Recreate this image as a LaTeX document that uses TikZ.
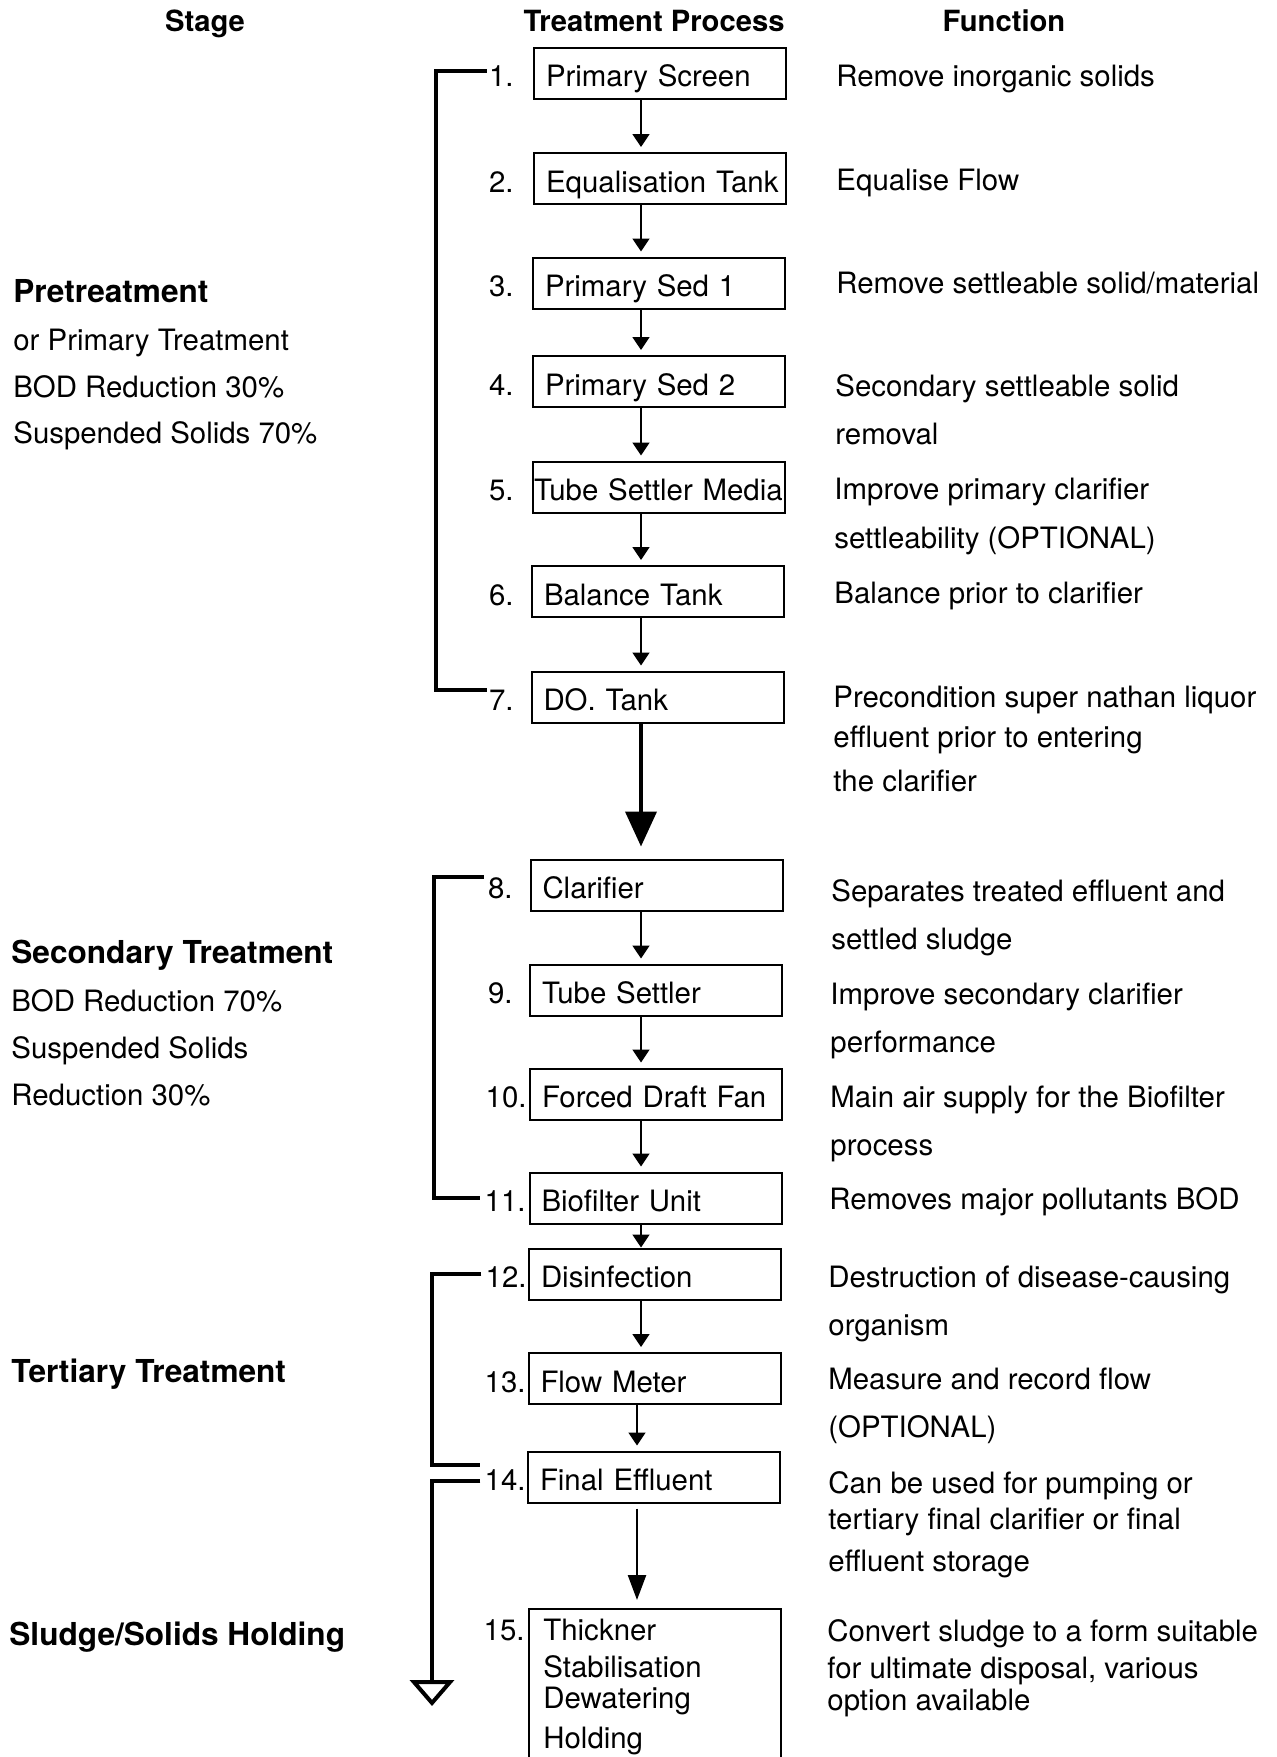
\documentclass[tikz,border=0pt]{standalone}
\usepackage{fontspec}
\setmainfont{TeX Gyre Heros}
\usetikzlibrary{arrows.meta}
\newcommand\myBody{\fontsize{14.7}{17}\selectfont}
\newcommand\myHead{\fontsize{14.6}{17}\selectfont\bfseries}
\newcommand\myStage{\fontsize{15.8}{19}\selectfont\bfseries}
\begin{document}
\begin{tikzpicture}[x=0.5pt,y=-0.5pt,
  procbox/.style={draw, line width=1pt, rectangle, minimum width=126pt, minimum height=25.5pt,
    text width=114pt, inner xsep=6pt, inner ysep=0pt, align=left, text height=13.6pt, text depth=0pt, font=\myBody},
  tightbox/.style={text width=125pt, inner xsep=0.5pt},
  num/.style={anchor=base east, inner sep=0pt, font=\myBody},
  ftext/.style={anchor=base west, inner sep=0pt, font=\myBody},
  stext/.style={anchor=base west, inner sep=0pt, font=\myBody},
  shead/.style={anchor=base west, inner sep=0pt, font=\myStage},
  hd/.style={anchor=base, inner sep=0pt, font=\myHead},
  flow/.style={line width=0.8pt, -{Triangle[width=8.5pt,length=6.5pt]}, shorten >=2.5pt},
  bigflow/.style={line width=2pt, -{Triangle[width=15.5pt,length=17.5pt]}, shorten >=6pt},
  midflow/.style={line width=1.2pt, -{Triangle[width=9pt,length=12.5pt]}, shorten <=2.5pt, shorten >=4pt},
  bracket/.style={line width=2pt, line join=miter}
]
\useasboundingbox (0,0) rectangle (1276,1757);
\fill[white] (0,0) rectangle (1276,1757);
\clip (0,0) rectangle (1276,1757);

% headers
\node[hd] (hStage) at (205,31) {Stage};
\node[hd] (hProc) at (654,31) {Treatment Process};
\node[hd] (hFunc) at (1004,31) {Function};

% process boxes
\node[procbox] (b1) at (660,73) {\mbox{Primary Screen}};
\node[procbox] (b2) at (660,178.5) {\mbox{Equalisation Tank}};
\node[procbox] (b3) at (659,283) {\mbox{Primary Sed 1}};
\node[procbox] (b4) at (659,381.5) {\mbox{Primary Sed 2}};
\node[procbox, tightbox] (b5) at (659,487) {\mbox{Tube Settler Media}};
\node[procbox] (b6) at (658,591.5) {\mbox{Balance Tank}};
\node[procbox] (b7) at (657.5,697) {\mbox{DO. Tank}};
\node[procbox] (b8) at (656.5,885) {\mbox{Clarifier}};
\node[procbox] (b9) at (656,990) {\mbox{Tube Settler}};
\node[procbox] (b10) at (656,1094) {\mbox{Forced Draft Fan}};
\node[procbox] (b11) at (655.5,1198) {\mbox{Biofilter Unit}};
\node[procbox] (b12) at (655,1274) {\mbox{Disinfection}};
\node[procbox] (b13) at (654.5,1378.5) {\mbox{Flow Meter}};
\node[procbox] (b14) at (654,1477) {\mbox{Final Effluent}};
\node[procbox, minimum height=100pt, anchor=north] (b15) at (654.5,1608) {};
\node[ftext] (t15a) at (543,1640) {Thickner};
\node[ftext] (t15b) at (543,1677) {Stabilisation};
\node[ftext] (t15c) at (543,1708) {Dewatering};
\node[ftext] (t15d) at (543,1748) {Holding};

% numbers
\node[num] (n1) at (514,86.6) {1.};
\node[num] (n2) at (514,192) {2.};
\node[num] (n3) at (514,296.5) {3.};
\node[num] (n4) at (514,395) {4.};
\node[num] (n5) at (514,500.5) {5.};
\node[num] (n6) at (514,605) {6.};
\node[num] (n7) at (514,710.5) {7.};
\node[num] (n8) at (513,898.5) {8.};
\node[num] (n9) at (513,1003.5) {9.};
\node[num] (n10) at (527,1107.5) {10.};
\node[num] (n11) at (526,1211.5) {11.};
\node[num] (n12) at (527,1287.5) {12.};
\node[num] (n13) at (526,1392) {13.};
\node[num] (n14) at (526,1490.5) {14.};
\node[num] (n15) at (525,1640) {15.};

% flow arrows
\coordinate (ax) at (641,0);
\coordinate (axb) at (637,0);
\draw[flow] (b1.south -| ax) -- (b2.north -| ax);
\draw[flow] (b2.south -| ax) -- (b3.north -| ax);
\draw[flow] (b3.south -| ax) -- (b4.north -| ax);
\draw[flow] (b4.south -| ax) -- (b5.north -| ax);
\draw[flow] (b5.south -| ax) -- (b6.north -| ax);
\draw[flow] (b6.south -| ax) -- (b7.north -| ax);
\draw[bigflow] (b7.south -| ax) -- (b8.north -| ax);
\draw[flow] (b8.south -| ax) -- (b9.north -| ax);
\draw[flow] (b9.south -| ax) -- (b10.north -| ax);
\draw[flow] (b10.south -| ax) -- (b11.north -| ax);
\draw[flow, shorten >=0pt] (b11.south -| ax) -- (b12.north -| ax);
\draw[flow] (b12.south -| ax) -- (b13.north -| ax);
\draw[flow] (b13.south -| axb) -- (b14.north -| axb);
\draw[midflow] (b14.south -| axb) -- (b15.north -| axb);

% stage brackets
\coordinate (kA) at (436,0);
\coordinate (kB) at (434,0);
\coordinate (kC) at (432,0);
\coordinate (sink) at (432,1706);
\draw[bracket] ([xshift=-1pt,yshift=2.5pt]n1.west) -- ([yshift=2.5pt]n1.west -| kA) -- ([yshift=5pt]n7.west -| kA) -- ([xshift=-1pt,yshift=5pt]n7.west);
\draw[bracket] ([xshift=-2pt,yshift=5.5pt]n8.west) -- ([yshift=5.5pt]n8.west -| kB) -- ([yshift=1.5pt]n11.west -| kB) -- ([xshift=-2pt,yshift=1.5pt]n11.west);
\draw[bracket] ([xshift=-2pt,yshift=1.5pt]n12.west) -- ([yshift=1.5pt]n12.west -| kC) -- ([yshift=7.5pt]n14.west -| kC) -- ([xshift=-2pt,yshift=7.5pt]n14.west);
\draw[bracket, -{Triangle[open,width=22pt,length=13pt]}] ([xshift=-2pt,yshift=-0.5pt]n14.west) -- ([yshift=-0.5pt]n14.west -| kC) -- (sink);

% stage texts
\node[shead] (s1) at (13,302) {Pretreatment};
\node[stext] (s1b) at (13,350) {or Primary Treatment};
\node[stext] (s1c) at (13,397) {BOD Reduction 30\%};
\node[stext] (s1d) at (13,443) {Suspended Solids 70\%};
\node[shead] (s2) at (11,963) {Secondary Treatment};
\node[stext] (s2b) at (11,1011) {BOD Reduction 70\%};
\node[stext] (s2c) at (11,1058) {Suspended Solids};
\node[stext] (s2d) at (11,1105) {Reduction 30\%};
\node[shead] (s3) at (11,1382) {Tertiary Treatment};
\node[shead] (s4) at (9,1645) {Sludge/Solids Holding};

% function texts
\node[ftext] (f1) at (836,86) {Remove inorganic solids};
\node[ftext] (f2) at (836,190) {Equalise Flow};
\node[ftext] (f3) at (836,293) {Remove settleable solid/material};
\node[ftext] (f4a) at (835,396) {Secondary settleable solid};
\node[ftext] (f4b) at (835,444) {removal};
\node[ftext] (f5a) at (834,499) {Improve primary clarifier};
\node[ftext] (f5b) at (834,548) {settleability (OPTIONAL)};
\node[ftext] (f6) at (834,603) {Balance prior to clarifier};
\node[ftext] (f7a) at (833,707) {Precondition super nathan liquor};
\node[ftext] (f7b) at (833,747) {effluent prior to entering};
\node[ftext] (f7c) at (833,791) {the clarifier};
\node[ftext] (f8a) at (831,901) {Separates treated effluent and};
\node[ftext] (f8b) at (831,949) {settled sludge};
\node[ftext] (f9a) at (830,1004) {Improve secondary clarifier};
\node[ftext] (f9b) at (830,1052) {performance};
\node[ftext] (f10a) at (830,1107) {Main air supply for the Biofilter};
\node[ftext] (f10b) at (830,1155) {process};
\node[ftext] (f11) at (829,1209) {Removes major pollutants BOD};
\node[ftext] (f12a) at (828,1287) {Destruction of disease-causing};
\node[ftext] (f12b) at (828,1335) {organism};
\node[ftext] (f13a) at (828,1389) {Measure and record flow};
\node[ftext] (f13b) at (828,1437) {(OPTIONAL)};
\node[ftext] (f14a) at (828,1493) {Can be used for pumping or};
\node[ftext] (f14b) at (828,1529) {tertiary final clarifier or final};
\node[ftext] (f14c) at (828,1571) {effluent storage};
\node[ftext] (f15a) at (827,1641) {Convert sludge to a form suitable};
\node[ftext] (f15b) at (827,1678) {for ultimate disposal, various};
\node[ftext] (f15c) at (827,1710) {option available};
\end{tikzpicture}
\end{document}
